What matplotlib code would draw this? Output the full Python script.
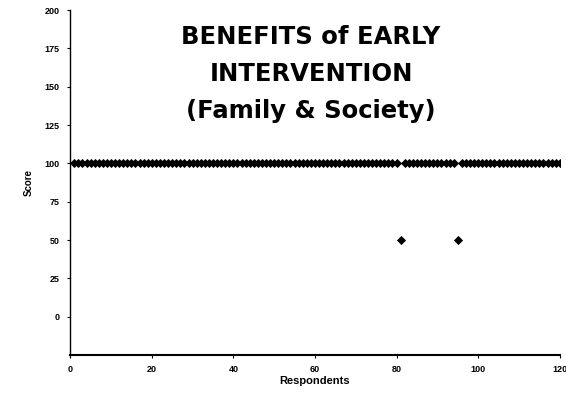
import matplotlib
matplotlib.use('Agg')
import matplotlib.pyplot as plt
import numpy as np

# respondents 1..120, all scored 100 except two who scored 50
respondents = list(range(1, 121))
low_respondents = [81, 95]
high_score = 100
low_score = 50
scores = [low_score if r in low_respondents else high_score for r in respondents]

x_ticks = [0, 20, 40, 60, 80, 100, 120]
y_ticks = [0, 25, 50, 75, 100, 125, 150, 175, 200]
title_lines = ['BENEFITS of EARLY', 'INTERVENTION', '(Family & Society)']

plt.rcParams['font.family'] = ['Liberation Sans', 'DejaVu Sans']

fig = plt.figure(figsize=(5.66, 4.03), dpi=100)
ax = fig.add_axes([0.124, 0.119, 0.865, 0.856])

ax.plot(respondents, scores, linestyle='none', marker='D', markersize=4.2,
        color='black', markeredgewidth=0.6)

ax.set_xlim(0, 120)
ax.set_ylim(-25, 200)
ax.set_xticks(x_ticks)
ax.set_yticks(y_ticks)
ax.tick_params(axis='both', labelsize=6.5, length=2.5, width=0.8, pad=5)
for lbl in ax.get_xticklabels() + ax.get_yticklabels():
    lbl.set_fontweight('bold')
ax.spines['top'].set_visible(False)
ax.spines['right'].set_visible(False)
ax.spines['left'].set_linewidth(1.0)
ax.spines['bottom'].set_linewidth(1.5)

ax.set_xlabel('Respondents', fontsize=8, fontweight='bold', labelpad=1)
ax.set_ylabel('Score', fontsize=7, fontweight='bold', labelpad=8)

# three-line title sitting inside the plot area
for i, line in enumerate(title_lines):
    fig.text(311 / 566, 1 - (44 + i * 37) / 403, line, ha='center', va='baseline',
             fontsize=17.5, fontweight='bold', family='DejaVu Sans')

fig.savefig('out.png', dpi=100)
